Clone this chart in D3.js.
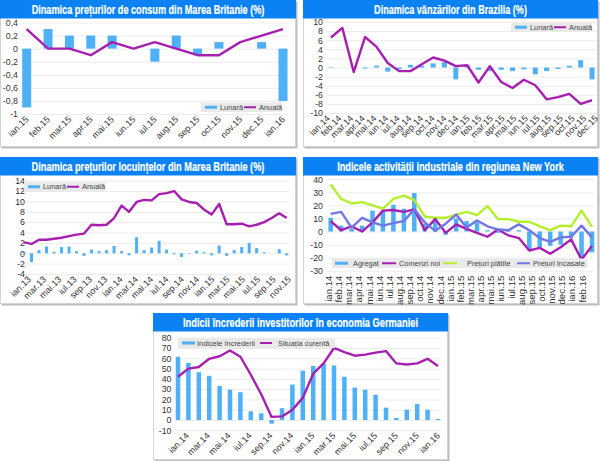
<!DOCTYPE html>
<html>
<head>
<meta charset="utf-8">
<script src="https://cdn.jsdelivr.net/npm/d3@7"></script>
<style>
	html, body { margin: 0; padding: 0; background: #fff; }
	svg { display: block; }
	.title { font: bold 13px "Liberation Sans", sans-serif; fill: #fff; stroke: #fff; stroke-width: .2; text-anchor: middle; }
	.tick text { font: 8.8px "Liberation Sans", sans-serif; fill: #333; }
	.xaxis .tick text { font-size: 9px; }
	.xaxis.vertical .tick text { font-size: 9.6px; }
	.legend text { font: 7.4px "Liberation Sans", sans-serif; fill: #444; }
</style>
</head>
<body>
<svg id="chart" width="600" height="461"></svg>
<script>
// data
var ukCpiMonths = ["ian.15","feb.15","mar.15","apr.15","mai.15","iun.15","iul.15","aug.15","sep.15","oct.15","nov.15","dec.15","ian.16"];
var ukCpiMonthly = [-0.9,0.3,0.2,0.2,0.2,0,-0.2,0.2,-0.1,0.1,0,0.1,-0.8];
var ukCpiAnnual = [0.3,0,0,-0.1,0.1,0,0.1,0,-0.1,-0.1,0.1,0.2,0.3];
var ukCpiTicks = [0.4,0.2,0,-0.2,-0.4,-0.6,-0.8,-1];

var brMonths = ["ian.14","feb.14","mar.14","apr.14","mai.14","iun.14","iul.14","aug.14","sep.14","oct.14","nov.14","dec.14","ian.15","feb.15","mar.15","apr.15","mai.15","iun.15","iul.15","aug.15","sep.15","oct.15","nov.15","dec.15"];
var brMonthly = [-0.1,0,0,-0.2,0.4,-0.9,-0.4,0.6,0.4,0.9,1.2,-2.6,0.6,-0.5,-0.8,-0.5,-0.8,-0.4,-1.5,-0.8,-0.3,0.4,1.6,-2.6];
var brAnnual = [6.6,8.7,-1,6.7,4.6,1,-0.8,-0.8,0.7,2.2,1.5,0.3,0.5,-3.3,0.3,-3.2,-4.5,-2.7,-3.9,-7,-6.5,-5.8,-8,-7.2];
var brTicks = [10,8,6,4,2,0,-2,-4,-6,-8,-10];

var housingMonths = ["ian.13","feb.13","mar.13","apr.13","mai.13","iun.13","iul.13","aug.13","sep.13","oct.13","nov.13","dec.13","ian.14","feb.14","mar.14","apr.14","mai.14","iun.14","iul.14","aug.14","sep.14","oct.14","nov.14","dec.14","ian.15","feb.15","mar.15","apr.15","mai.15","iun.15","iul.15","aug.15","sep.15","oct.15","nov.15","dec.15"];
var housingLabels = ["ian.13","mar.13","mai.13","iul.13","sep.13","nov.13","ian.14","mar.14","mai.14","iul.14","sep.14","nov.14","ian.15","mar.15","mai.15","iul.15","sep.15","nov.15"];
var housingMonthly = [0.3,-1.7,0.6,1.3,0.3,1.2,1.3,0.4,-0.5,0.7,0.4,0.6,1.4,0.4,-0.4,3.1,0.6,1.1,2.4,0.7,-0.2,-0.7,-0.1,0.5,0.2,-0.4,1.5,-0.5,0.6,1.2,2,1,0.2,0,0.8,-0.4];
var housingAnnual = [2.1,1.8,2.6,2.6,2.8,3,3.3,3.6,3.8,5.5,5.4,5.5,6.8,9.2,8,9.9,10.3,10.2,11.4,11.6,12,10.4,9.9,9.7,8.4,7.5,9.5,5.6,5.6,5.7,5.2,5.5,6,6.8,7.7,6.8];
var housingTicks = [14,12,10,8,6,4,2,0,-2,-4];

var nyMonths = ["ian.14","feb.14","mar.14","apr.14","mai.14","iun.14","iul.14","aug.14","sep.14","oct.14","nov.14","dec.14","ian.15","feb.15","mar.15","apr.15","mai.15","iun.15","iul.15","aug.15","sep.15","oct.15","nov.15","dec.15","ian.16","feb.16"];
var nyAggregate = [10.5,4.5,2,4.5,16,15.5,20.5,17.5,29.5,6,10,-2.5,10,8,7,1,-1,2,1,-14,-12,-11,-10,-5,-20,-16];
var nyNewOrders = [8,1,4,0,7,16,16.5,15,17,1,9.5,-1,5.5,2,-1,-4,1.5,-3,-5,-14.5,-12.5,-17,-12,-6,-21.5,-11];
var nyPricesPaid = [36,25,21.5,22.5,20,17.5,25,27.5,24,11.5,10.5,10.5,13,15,12.5,19.5,9.5,9.5,7.5,7.5,4,1,4.5,4,16,3.5];
var nyPricesReceived = [13.5,15,3,10.5,7,4.5,6.5,8,17,7,0.5,6,13,3,8.5,4,1.5,1,5.5,1,-5,-8,-4.5,-4,4.5,-4.5];
var nyTicks = [40,30,20,10,0,-10,-20,-30];

var deMonths = ["ian.14","feb.14","mar.14","apr.14","mai.14","iun.14","iul.14","aug.14","sep.14","oct.14","nov.14","dec.14","ian.15","feb.15","mar.15","apr.15","mai.15","iun.15","iul.15","aug.15","sep.15","oct.15","nov.15","dec.15","ian.16","feb.16"];
var deLabels = ["ian.14","mar.14","mai.14","iul.14","sep.14","nov.14","ian.15","mar.15","mai.15","iul.15","sep.15","nov.15","ian.16"];
var deConfidence = [61.5,55.5,46.5,43,33,29.5,27,8.5,6.5,-3.5,11.5,34.5,48,52.5,54.5,53,42,31.5,29.5,24.5,12,2,10,15.5,10,1];
var deCurrent = [42,50,51.5,59.5,62,67.5,61.5,44,25,3,3.5,10,21.5,45,55,70,66,62.5,63.5,65.5,67,55,54,55,59.5,52.5];
var deTicks = [80,70,60,50,40,30,20,10,0,-10];

var BAR = "#4fb0f6", PURPLE = "#a61fb0", LIME = "#b5ef2c", SLATE = "#6f76e6", TITLE = "#0b82f3";

var svg = d3.select("#chart");

function panel(o) {
	var g = svg.append("g");
	g.append("rect").attr("x", o.box[0] + 1.5).attr("y", o.box[1] + 1.5).attr("width", o.box[2]).attr("height", o.box[3])
		.attr("fill", "#bdbdbd");
	g.append("rect").attr("x", o.box[0] + .5).attr("y", o.box[1] + .5).attr("width", o.box[2] - 1).attr("height", o.box[3] - 1)
		.attr("fill", "#fff").attr("stroke", "#d4d4d4");
	g.append("rect").attr("x", o.box[0]).attr("y", o.box[1]).attr("width", o.box[2]).attr("height", 18.5).attr("fill", TITLE);
	// no condensed face installed, so squeeze the title to the wanted width
	var t = g.append("text").attr("class", "title").text(o.title);
	t.attr("transform", "translate(" + (o.box[0] + o.box[2] / 2) + "," + (o.box[1] + 14) + ") scale(" + (o.titleWidth / t.node().getComputedTextLength()) + ",1)");

	var x = d3.scalePoint().domain(o.months).range(o.xr),
		y = d3.scaleLinear().domain([o.ticks[o.ticks.length - 1], o.ticks[0]]).range(o.yr),
		lx = d3.scalePoint().domain(o.labels || o.months).range(o.lr),
		gl = o.xr[0] - o.pad, gr = o.xr[1] + o.pad;

	// grid and value labels
	var ya = g.append("g").attr("transform", "translate(" + gl + ",0)")
		.call(d3.axisLeft(y).tickValues(o.ticks).tickSize(-(gr - gl)).tickPadding(gl - o.tr)
			.tickFormat(function(d) { return String(d).replace(".", ","); }));
	ya.select(".domain").remove();
	ya.selectAll("line").attr("stroke", "#ececec");

	// category labels
	var xa = g.append("g").attr("class", o.vertical ? "xaxis vertical" : "xaxis").attr("transform", "translate(0," + o.yr[0] + ")")
		.call(d3.axisBottom(lx).tickSize(0).tickPadding(0));
	xa.select(".domain").remove();
	if (o.vertical)
		xa.selectAll("text").attr("transform", "translate(3,5) rotate(-90)").attr("dy", 0).attr("y", 0).style("text-anchor", "end");
	else
		xa.selectAll("text").attr("transform", "translate(2,6) rotate(-45)").attr("dy", 0).attr("y", 0).style("text-anchor", "end");

	// bars
	g.append("g").selectAll("rect").data(o.bars).join("rect")
		.attr("x", function(d, i) { return x(o.months[i]) - o.bw / 2; })
		.attr("y", function(d) { return y(Math.max(0, d)); })
		.attr("width", o.bw)
		.attr("height", function(d) { return Math.abs(y(d) - y(0)); })
		.attr("fill", BAR);

	// lines
	o.lines.forEach(function(l) {
		var line = d3.line().x(function(d, i) { return x(o.months[i]); }).y(function(d) { return y(d); });
		g.append("path").datum(l.values).attr("d", line).attr("fill", "none")
			.attr("stroke", l.color).attr("stroke-width", 2.4).attr("stroke-linejoin", "round");
	});

	// legend
	var lg = g.append("g").attr("class", "legend");
	lg.append("rect").attr("x", o.legend.x).attr("y", o.legend.y).attr("width", o.legend.w).attr("height", o.legend.h).attr("fill", "#e9e9e9");
	o.legend.items.forEach(function(it) {
		lg.append("rect").attr("x", it.x).attr("y", o.legend.y + o.legend.h / 2 - (it.bar ? 1.5 : 1))
			.attr("width", it.sw).attr("height", it.bar ? 3 : 2).attr("fill", it.color);
		lg.append("text").attr("x", it.x + it.sw + it.gap).attr("y", o.legend.y + o.legend.h / 2 + 2.6).text(it.label);
	});
}

panel({
	box: [0, 0, 296, 147], title: "Dinamica prețurilor de consum din Marea Britanie (%)", titleWidth: 233,
	months: ukCpiMonths, ticks: ukCpiTicks, bars: ukCpiMonthly, bw: 9, pad: 5, tr: 18,
	xr: [26.7, 283], yr: [114, 22.5], lr: [26.7, 283],
	lines: [{ values: ukCpiAnnual, color: PURPLE }],
	legend: { x: 201, y: 102.5, w: 81, h: 9.5, items: [
		{ label: "Lunară", x: 205, sw: 12, gap: 3, color: BAR, bar: true },
		{ label: "Anuală", x: 244, sw: 12, gap: 3, color: PURPLE }
	] }
});

panel({
	box: [303, 0, 295, 147], title: "Dinamica vânzărilor din Brazilia (%)", titleWidth: 153,
	months: brMonths, ticks: brTicks, bars: brMonthly, bw: 5, pad: 5, tr: 323,
	xr: [331, 592], yr: [113, 22], lr: [328, 596],
	lines: [{ values: brAnnual, color: PURPLE }],
	legend: { x: 511, y: 22.5, w: 81, h: 9.5, items: [
		{ label: "Lunară", x: 515, sw: 12, gap: 3, color: BAR, bar: true },
		{ label: "Anuală", x: 554, sw: 12, gap: 3, color: PURPLE }
	] }
});

panel({
	box: [0, 157, 296, 147], title: "Dinamica prețurilor locuințelor din Marea Britanie (%)", titleWidth: 233,
	months: housingMonths, labels: housingLabels, ticks: housingTicks, bars: housingMonthly, bw: 3, pad: 3, tr: 25,
	xr: [24, 286.7], yr: [274, 180.7], lr: [29, 289],
	lines: [{ values: housingAnnual, color: PURPLE }],
	legend: { x: 24, y: 182, w: 81, h: 9.5, items: [
		{ label: "Lunară", x: 28, sw: 12, gap: 3, color: BAR, bar: true },
		{ label: "Anuală", x: 67, sw: 12, gap: 3, color: PURPLE }
	] }
});

panel({
	box: [303, 157, 295, 147], title: "Indicele activității industriale din regiunea New York", titleWidth: 227,
	months: nyMonths, ticks: nyTicks, bars: nyAggregate, bw: 4.5, pad: 3, vertical: true, tr: 323,
	xr: [330.7, 592], yr: [270.7, 179.3], lr: [328.5, 582],
	lines: [
		{ values: nyPricesPaid, color: LIME },
		{ values: nyNewOrders, color: PURPLE },
		{ values: nyPricesReceived, color: SLATE }
	],
	legend: { x: 332, y: 258.5, w: 255, h: 9.5, items: [
		{ label: "Agregat", x: 335, sw: 13, gap: 5, color: BAR, bar: true },
		{ label: "Comenzi noi", x: 382, sw: 14, gap: 3, color: PURPLE },
		{ label: "Prețuri plătite", x: 443, sw: 14, gap: 10, color: LIME },
		{ label: "Prețuri încasate", x: 517, sw: 13, gap: 3, color: SLATE }
	] }
});

panel({
	box: [153, 313, 295, 147], title: "Indicii încrederii investitorilor în economia Germaniei", titleWidth: 235,
	months: deMonths, labels: deLabels, ticks: deTicks, bars: deConfidence, bw: 4.5, pad: 3, tr: 171.5,
	xr: [178, 438], yr: [430.3, 337.7], lr: [187, 438],
	lines: [{ values: deCurrent, color: PURPLE }],
	legend: { x: 178, y: 338, w: 157, h: 10, items: [
		{ label: "Indicele încrederii", x: 182, sw: 13, gap: 2, color: BAR, bar: true },
		{ label: "Situația curentă", x: 260, sw: 12, gap: 6, color: PURPLE }
	] }
});
</script>
</body>
</html>
